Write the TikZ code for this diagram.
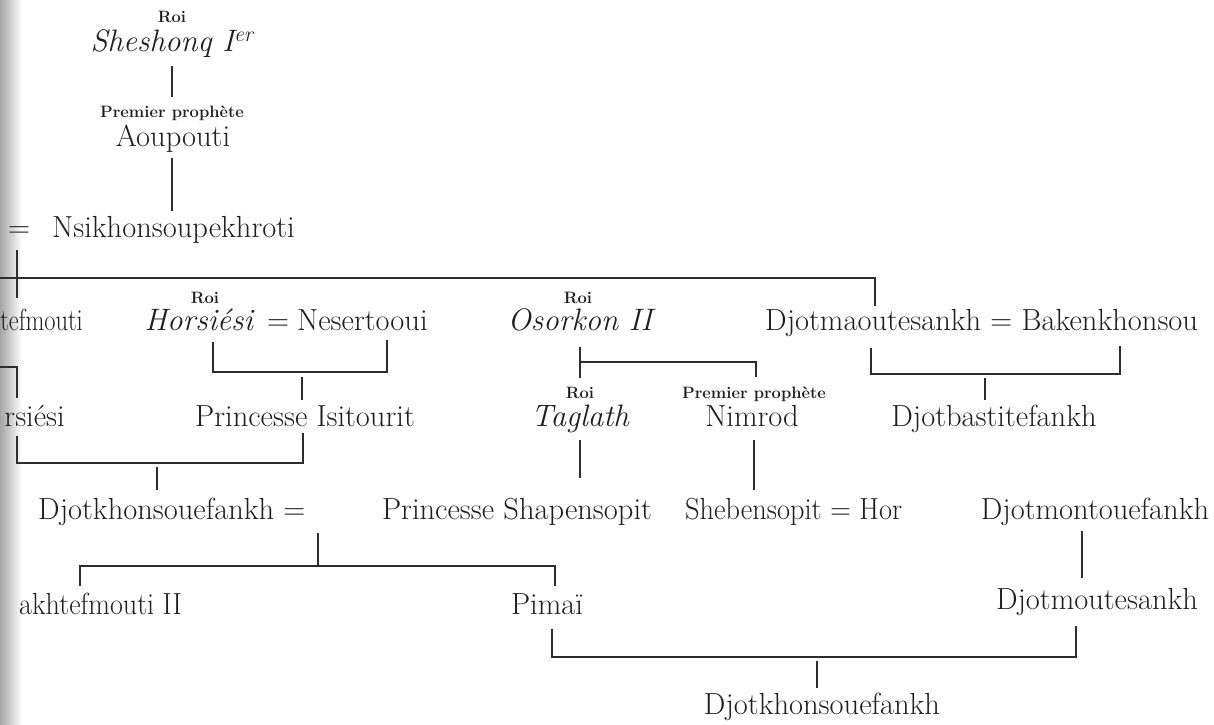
\documentclass[tikz,border=0pt]{standalone}
\usepackage{fontspec}
\setmainfont{Latin Modern Roman}
\begin{document}
\begin{tikzpicture}[x=1pt,y=-1pt,
  nm/.style={font=\fontsize{30.5}{34}\selectfont,inner sep=0pt,anchor=base,text=black!88},
  it/.style={font=\fontsize{31}{35}\selectfont\itshape,inner sep=0pt,anchor=base,text=black!88},
  tt/.style={font=\bfseries\fontsize{16.5}{19}\selectfont,inner sep=0pt,anchor=base,text=black!88},
  ln/.style={line width=1.1pt,draw=black!82}]
\useasboundingbox (0,0) rectangle (1214,724);
\fill[white] (0,0) rectangle (1214,724);
\shade[left color=black!35,right color=white] (0,0) rectangle (22,724);

% generation 1-2
\node[tt] (roiA) at (172,22) {Roi};
\node[it] (shesh) at (172,51) {Sheshonq I\textsuperscript{er}};
\node[tt] (ppA) at (172,117) {Premier prophète};
\node[nm] (aoup) at (173,146) {Aoupouti};
\node[nm] (eqA) at (19,237) {=};
\node[nm,anchor=base west] (nsik) at (52,237) {Nsikhonsoupekhroti};

% generation 3
\node[nm,anchor=base east] (tef) at (83,330) {\scalebox{0.8}[1]{tefmouti}};
\node[tt] (roiB) at (205,303) {Roi};
\node[it,anchor=base east] (hors) at (253,330) {Horsiési};
\node[nm] (eqB) at (278,330) {=};
\node[nm,anchor=base west] (neser) at (297,330) {Nesertooui};
\node[tt] (roiC) at (578,303) {Roi};
\node[it] (osor) at (580,330) {Osorkon II};
\node[nm,anchor=base west] (djma) at (765,330) {Djotmaoutesankh = Bakenkhonsou};

% generation 4
\node[nm,anchor=base east] (rsi) at (65,426) {rsiési};
\node[nm] (isit) at (305,426) {Princesse Isitourit};
\node[tt] (roiD) at (580,398) {Roi};
\node[it] (tagl) at (580,426) {Taglath};
\node[tt] (ppB) at (754,398) {Premier prophète};
\node[nm] (nimr) at (752,426) {Nimrod};
\node[nm] (djba) at (994,426) {Djotbastitefankh};

% generation 5
\node[nm,anchor=base west] (djkh) at (38,519) {Djotkhonsouefankh =};
\node[nm] (shap) at (517,519) {Princesse Shapensopit};
\node[nm,anchor=base west] (sheb) at (685,519) {\scalebox{0.93}[1]{Shebensopit = Hor}};
\node[nm] (djmo) at (1095,519) {Djotmontouefankh};

% generation 6
\node[nm,anchor=base east] (takh) at (182,614) {\scalebox{0.92}[1]{akhtefmouti II}};
\node[nm] (pima) at (547,614) {Pimaï};
\node[nm] (djmt) at (1097,609) {Djotmoutesankh};

% generation 7
\node[nm] (djkb) at (822,714) {Djotkhonsouefankh};

% coordinates
\coordinate (a1) at (172,66);  \coordinate (a2) at (172,97);
\coordinate (b1) at (172,158); \coordinate (b2) at (172,211);
\coordinate (c1) at (17,250);  \coordinate (c2) at (17,298);
\coordinate (hl) at (0,278);   \coordinate (hr) at (875,278);
\coordinate (hr2) at (875,306);
\coordinate (d1) at (213,342); \coordinate (d2) at (213,372);
\coordinate (d3) at (387,372); \coordinate (d4) at (387,340);
\coordinate (d5) at (302,377); \coordinate (d6) at (302,400);
\coordinate (e1) at (580,347); \coordinate (e2) at (580,378);
\coordinate (e3) at (580,362); \coordinate (e4) at (756,362);
\coordinate (e5) at (756,377);
\coordinate (f1) at (871,348); \coordinate (f2) at (871,374);
\coordinate (f3) at (1120,374); \coordinate (f4) at (1120,346);
\coordinate (f5) at (985,378); \coordinate (f6) at (985,400);
\coordinate (g0) at (0,367); \coordinate (g1) at (17,367); \coordinate (g2) at (17,398);
\coordinate (h1) at (17,436); \coordinate (h2) at (17,463);
\coordinate (h3) at (303,463); \coordinate (h4) at (303,433);
\coordinate (h5) at (157,467); \coordinate (h6) at (157,490);
\coordinate (i1) at (580,440); \coordinate (i2) at (580,478);
\coordinate (j1) at (754,440); \coordinate (j2) at (754,490);
\coordinate (k1) at (318,533); \coordinate (k2) at (318,566);
\coordinate (k3) at (80,566);  \coordinate (k4) at (80,586);
\coordinate (k5) at (555,566); \coordinate (k6) at (555,586);
\coordinate (l1) at (1082,531); \coordinate (l2) at (1082,578);
\coordinate (m1) at (552,629); \coordinate (m2) at (552,657);
\coordinate (m3) at (1076,657); \coordinate (m4) at (1076,626);
\coordinate (m5) at (817,661); \coordinate (m6) at (817,688);

% connectors
\draw[ln] (a1) -- (a2);
\draw[ln] (b1) -- (b2);
\draw[ln] (c1) -- (c2);
\draw[ln] (hl) -- (hr) -- (hr2);
\draw[ln] (d1) -- (d2) -- (d3) -- (d4);
\draw[ln] (d5) -- (d6);
\draw[ln] (e1) -- (e2);
\draw[ln] (e3) -- (e4) -- (e5);
\draw[ln] (f1) -- (f2) -- (f3) -- (f4);
\draw[ln] (f5) -- (f6);
\draw[ln] (g0) -- (g1) -- (g2);
\draw[ln] (h1) -- (h2) -- (h3) -- (h4);
\draw[ln] (h5) -- (h6);
\draw[ln] (i1) -- (i2);
\draw[ln] (j1) -- (j2);
\draw[ln] (k1) -- (k2);
\draw[ln] (k4) -- (k3) -- (k5) -- (k6);
\draw[ln] (l1) -- (l2);
\draw[ln] (m1) -- (m2) -- (m3) -- (m4);
\draw[ln] (m5) -- (m6);
\end{tikzpicture}
\end{document}
